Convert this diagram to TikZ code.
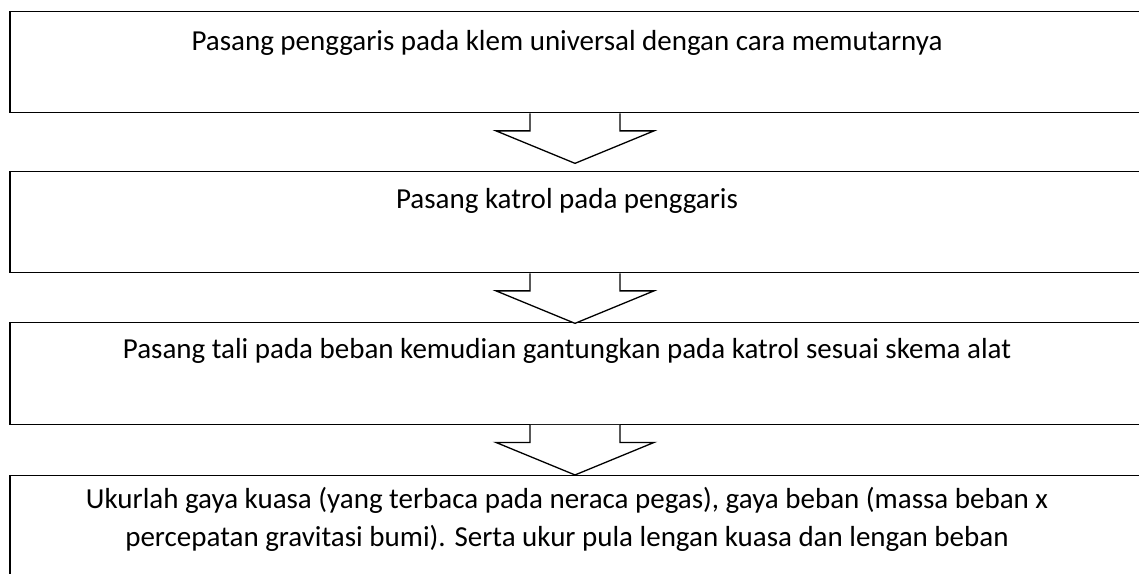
\documentclass[tikz,border=0pt]{standalone}
\usepackage{fontspec}
\setmainfont{Carlito}
\tikzset{
  x=1pt, y=-1pt,
  boxstyle/.style={draw, line width=1.3pt, rectangle, inner sep=0pt},
  txt/.style={anchor=base, inner sep=0pt, align=center, font=\fontsize{29}{38}\selectfont},
  downarrow/.pic={
    \fill[white] (-45,0) -- (-45,17.5) -- (-79,17.5) -- (0,50) -- (79,17.5) -- (45,17.5) -- (45,0) -- cycle;
    \draw[line width=1.3pt, line join=miter] (-45,0) -- (-45,17.5) -- (-79,17.5) -- (0,50) -- (79,17.5) -- (45,17.5) -- (45,0);
  }
}
\begin{document}
\begin{tikzpicture}
\useasboundingbox (0,0) rectangle (1139,573);
\clip (0,0) rectangle (1139,573);
\node[boxstyle, minimum width=1140pt, minimum height=101.4pt] (b1) at (580,62) {};
\node[boxstyle, minimum width=1140pt, minimum height=101pt] (b2) at (580,222.2) {};
\node[boxstyle, minimum width=1140pt, minimum height=101.6pt] (b3) at (580,373.5) {};
\node[boxstyle, minimum width=1140pt, minimum height=124.3pt] (b4) at (580,537.85) {};
\node[txt] (t1) at (567,50) {Pasang penggaris pada klem universal dengan cara memutarnya};
\node[txt] (t2) at (567,208) {Pasang katrol pada penggaris};
\node[txt] (t3) at (567,358.5) {Pasang tali pada beban kemudian gantungkan pada katrol sesuai skema alat};
\node[txt] (t4) at (567,546) {Ukurlah gaya kuasa (yang terbaca pada neraca pegas), gaya beban (massa beban x\\percepatan gravitasi bumi). Serta ukur pula lengan kuasa dan lengan beban};
\pic at ([xshift=-5pt]b1.south) {downarrow};
\pic at ([xshift=-5pt]b2.south) {downarrow};
\pic at ([xshift=-5pt]b3.south) {downarrow};
\end{tikzpicture}
\end{document}
